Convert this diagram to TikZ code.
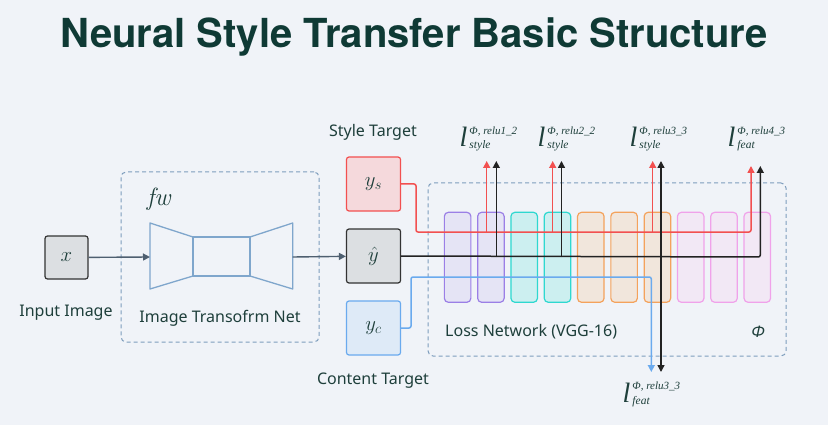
\documentclass[tikz,border=0pt]{standalone}
\usepackage[no-math]{fontspec}
\setmainfont{Noto Sans}
\newfontfamily\titlefont{TeX Gyre Heros}
\newfontfamily\lossfont{Liberation Serif}
\usetikzlibrary{arrows.meta}
\definecolor{bg}{HTML}{F0F3F8}
\definecolor{txt}{HTML}{1E3F3B}
\definecolor{ttl}{HTML}{0F3A35}
\definecolor{dashc}{HTML}{7E9DBD}
\definecolor{netc}{HTML}{7FA6CC}
\definecolor{redl}{HTML}{F25050}
\definecolor{bluel}{HTML}{6AAAEE}
\definecolor{blkl}{HTML}{222222}
\definecolor{arrc}{HTML}{4E5F70}
\definecolor{grayfill}{HTML}{DCDFE2}
\definecolor{grayedge}{HTML}{333333}
\definecolor{redfill}{HTML}{F5D9DC}
\definecolor{bluefill}{HTML}{DEEAF7}
\definecolor{purE}{HTML}{9B7FE6}\definecolor{purF}{HTML}{E5E4F5}
\definecolor{teaE}{HTML}{2ED8D0}\definecolor{teaF}{HTML}{CCEFF0}
\definecolor{oraE}{HTML}{F4A25C}\definecolor{oraF}{HTML}{F1E6DC}
\definecolor{pinE}{HTML}{F0A2EA}\definecolor{pinF}{HTML}{F2E8F5}
\newcommand{\lossl}[2]{\lossfont\itshape{\fontsize{28}{28}\selectfont l}\kern2pt\makebox[0pt][l]{\raisebox{13pt}{\fontsize{11}{12}\selectfont Φ, relu#1}}{\fontsize{11.5}{12}\selectfont\raisebox{-1.5pt}{#2}}}
\begin{document}
\begin{tikzpicture}[x=1pt,y=-1pt,
  lbl/.style={text=txt,font=\fontsize{16}{19}\selectfont,inner sep=0pt},
  dashbox/.style={draw=dashc,dash pattern=on 4pt off 3pt,line width=1pt,rounded corners=5pt},
  varbox/.style={line width=1.2pt,rounded corners=2.5pt,minimum width=54pt,minimum height=54pt,inner sep=0pt,text=txt,font=\fontsize{22}{22}\selectfont},
  layer/.style={line width=1.2pt,rounded corners=4pt,minimum width=26.5pt,minimum height=90pt,inner sep=0pt},
  tip/.style={-{Triangle[length=7pt,width=7pt]}},
  flow/.style={draw=arrc,line width=1.4pt,tip},
  redline/.style={draw=redl,line width=1.5pt,tip,rounded corners=2pt},
  blkline/.style={draw=blkl,line width=1.5pt,tip,rounded corners=2pt},
  blueline/.style={draw=bluel,line width=1.5pt,tip,rounded corners=2pt},
  losslbl/.style={text=txt,inner sep=0pt,anchor=base west}]
\fill[bg] (0,0) rectangle (828,425);
\useasboundingbox (0,0) rectangle (828,425);

\node[text=ttl,font=\titlefont\fontsize{40}{48}\selectfont\bfseries,anchor=base] (title) at (414,47.7) {Neural Style Transfer Basic Structure};

% image transform net
\node[dashbox,minimum width=198pt,minimum height=170pt] (tnet) at (220,257) {};
\node[text=txt,font=\fontsize{25}{25}\selectfont,inner sep=0pt] (fw) at (160,199) {$\mathit{fw}$};
\draw[netc,line width=1.3pt,line join=round] (150,223) -- (193,237) -- (193,276) -- (150,289) -- cycle;
\draw[netc,line width=1.3pt] (193,237) rectangle (250,276);
\draw[netc,line width=1.3pt,line join=round] (250,237) -- (292.7,223) -- (292.7,289) -- (250,276) -- cycle;
\coordinate (encin) at (150,257);
\coordinate (encout) at (292.7,257);
\node[lbl] (tnetlbl) at (220,318) {Image Transofrm Net};

% input
\node[varbox,draw=grayedge,fill=grayfill,minimum width=43pt,minimum height=43pt,font=\fontsize{20}{20}\selectfont] (xin) at (66.5,257.5) {$x$};
\node[lbl] (inlbl) at (66,313) {Input Image};

% targets
\node[varbox,draw=redl,fill=redfill] (ys) at (373.5,184) {$y_s$};
\node[varbox,draw=grayedge,fill=grayfill] (yhat) at (373.5,256) {$\hat{y}$};
\node[varbox,draw=bluel,fill=bluefill] (yc) at (373.5,328) {$y_c$};
\node[lbl] (stlbl) at (373,132) {Style Target};
\node[lbl] (ctlbl) at (373,381) {Content Target};

\draw[flow] (xin) -- (encin);
\draw[flow] (encout) -- (yhat);

% loss network
\node[dashbox,minimum width=358pt,minimum height=173pt] (lnet) at (607,269.5) {};
\node[lbl,anchor=west] (lnetlbl) at (445,332) {Loss Network (VGG-16)};
\node[lbl,font=\fontsize{16}{19}\selectfont\itshape] (phi) at (758,332) {Φ};

\foreach \i/\e/\f in {0/purE/purF,1/purE/purF,2/teaE/teaF,3/teaE/teaF,4/oraE/oraF,5/oraE/oraF,6/oraE/oraF,7/pinE/pinF,8/pinE/pinF,9/pinE/pinF}
  \node[layer,draw=\e,fill=\f] (L\i) at (457.6+33.3*\i,257.3) {};

% rails and tips
\coordinate (rcorner) at (416,184);
\coordinate (rrail0) at (416,232);
\coordinate (rb1) at (486.7,232);
\coordinate (rb2) at (552.7,232);
\coordinate (rb3) at (652.7,232);
\coordinate (rrail1) at (751,232);
\coordinate (rt1) at (486.7,161);
\coordinate (rt2) at (552.7,161);
\coordinate (rt3) at (652.7,161);
\coordinate (rt4) at (751,166);
\coordinate (kb1) at (496.3,257);
\coordinate (kb2) at (561.5,257);
\coordinate (krail1) at (760.3,257);
\coordinate (kt1) at (496.3,161);
\coordinate (kt2) at (561.5,161);
\coordinate (kt3) at (661,161);
\coordinate (kd3) at (661,372);
\coordinate (kt4) at (760.3,166);
\coordinate (bcorner) at (411,328);
\coordinate (brail0) at (411,277);
\coordinate (brail1) at (651.3,277);
\coordinate (bd) at (651.3,372);

\draw[redline] (ys.east) -- (rcorner) -- (rrail0) -- (rrail1) -- (rt4);
\draw[redline] (rb1) -- (rt1);
\draw[redline] (rb2) -- (rt2);
\draw[redline] (rb3) -- (rt3);

\draw[blueline] (yc.east) -- (bcorner) -- (brail0) -- (brail1) -- (bd);

\draw[blkline] (yhat.east) -- (krail1) -- (kt4);
\draw[blkline] (kb1) -- (kt1);
\draw[blkline] (kb2) -- (kt2);
\draw[blkline,{Triangle[length=7pt,width=7pt]}-{Triangle[length=7pt,width=7pt]}] (kt3) -- (kd3);

% loss labels
\node[losslbl] (l1) at (459.5,147) {\lossl{1\_2}{style}};
\node[losslbl] (l2) at (537.5,147) {\lossl{2\_2}{style}};
\node[losslbl] (l3) at (629.5,147) {\lossl{3\_3}{style}};
\node[losslbl] (l4) at (727.5,147) {\lossl{4\_3}{feat}};
\node[losslbl] (l5) at (622.5,402.5) {\lossl{3\_3}{feat}};
\end{tikzpicture}
\end{document}
